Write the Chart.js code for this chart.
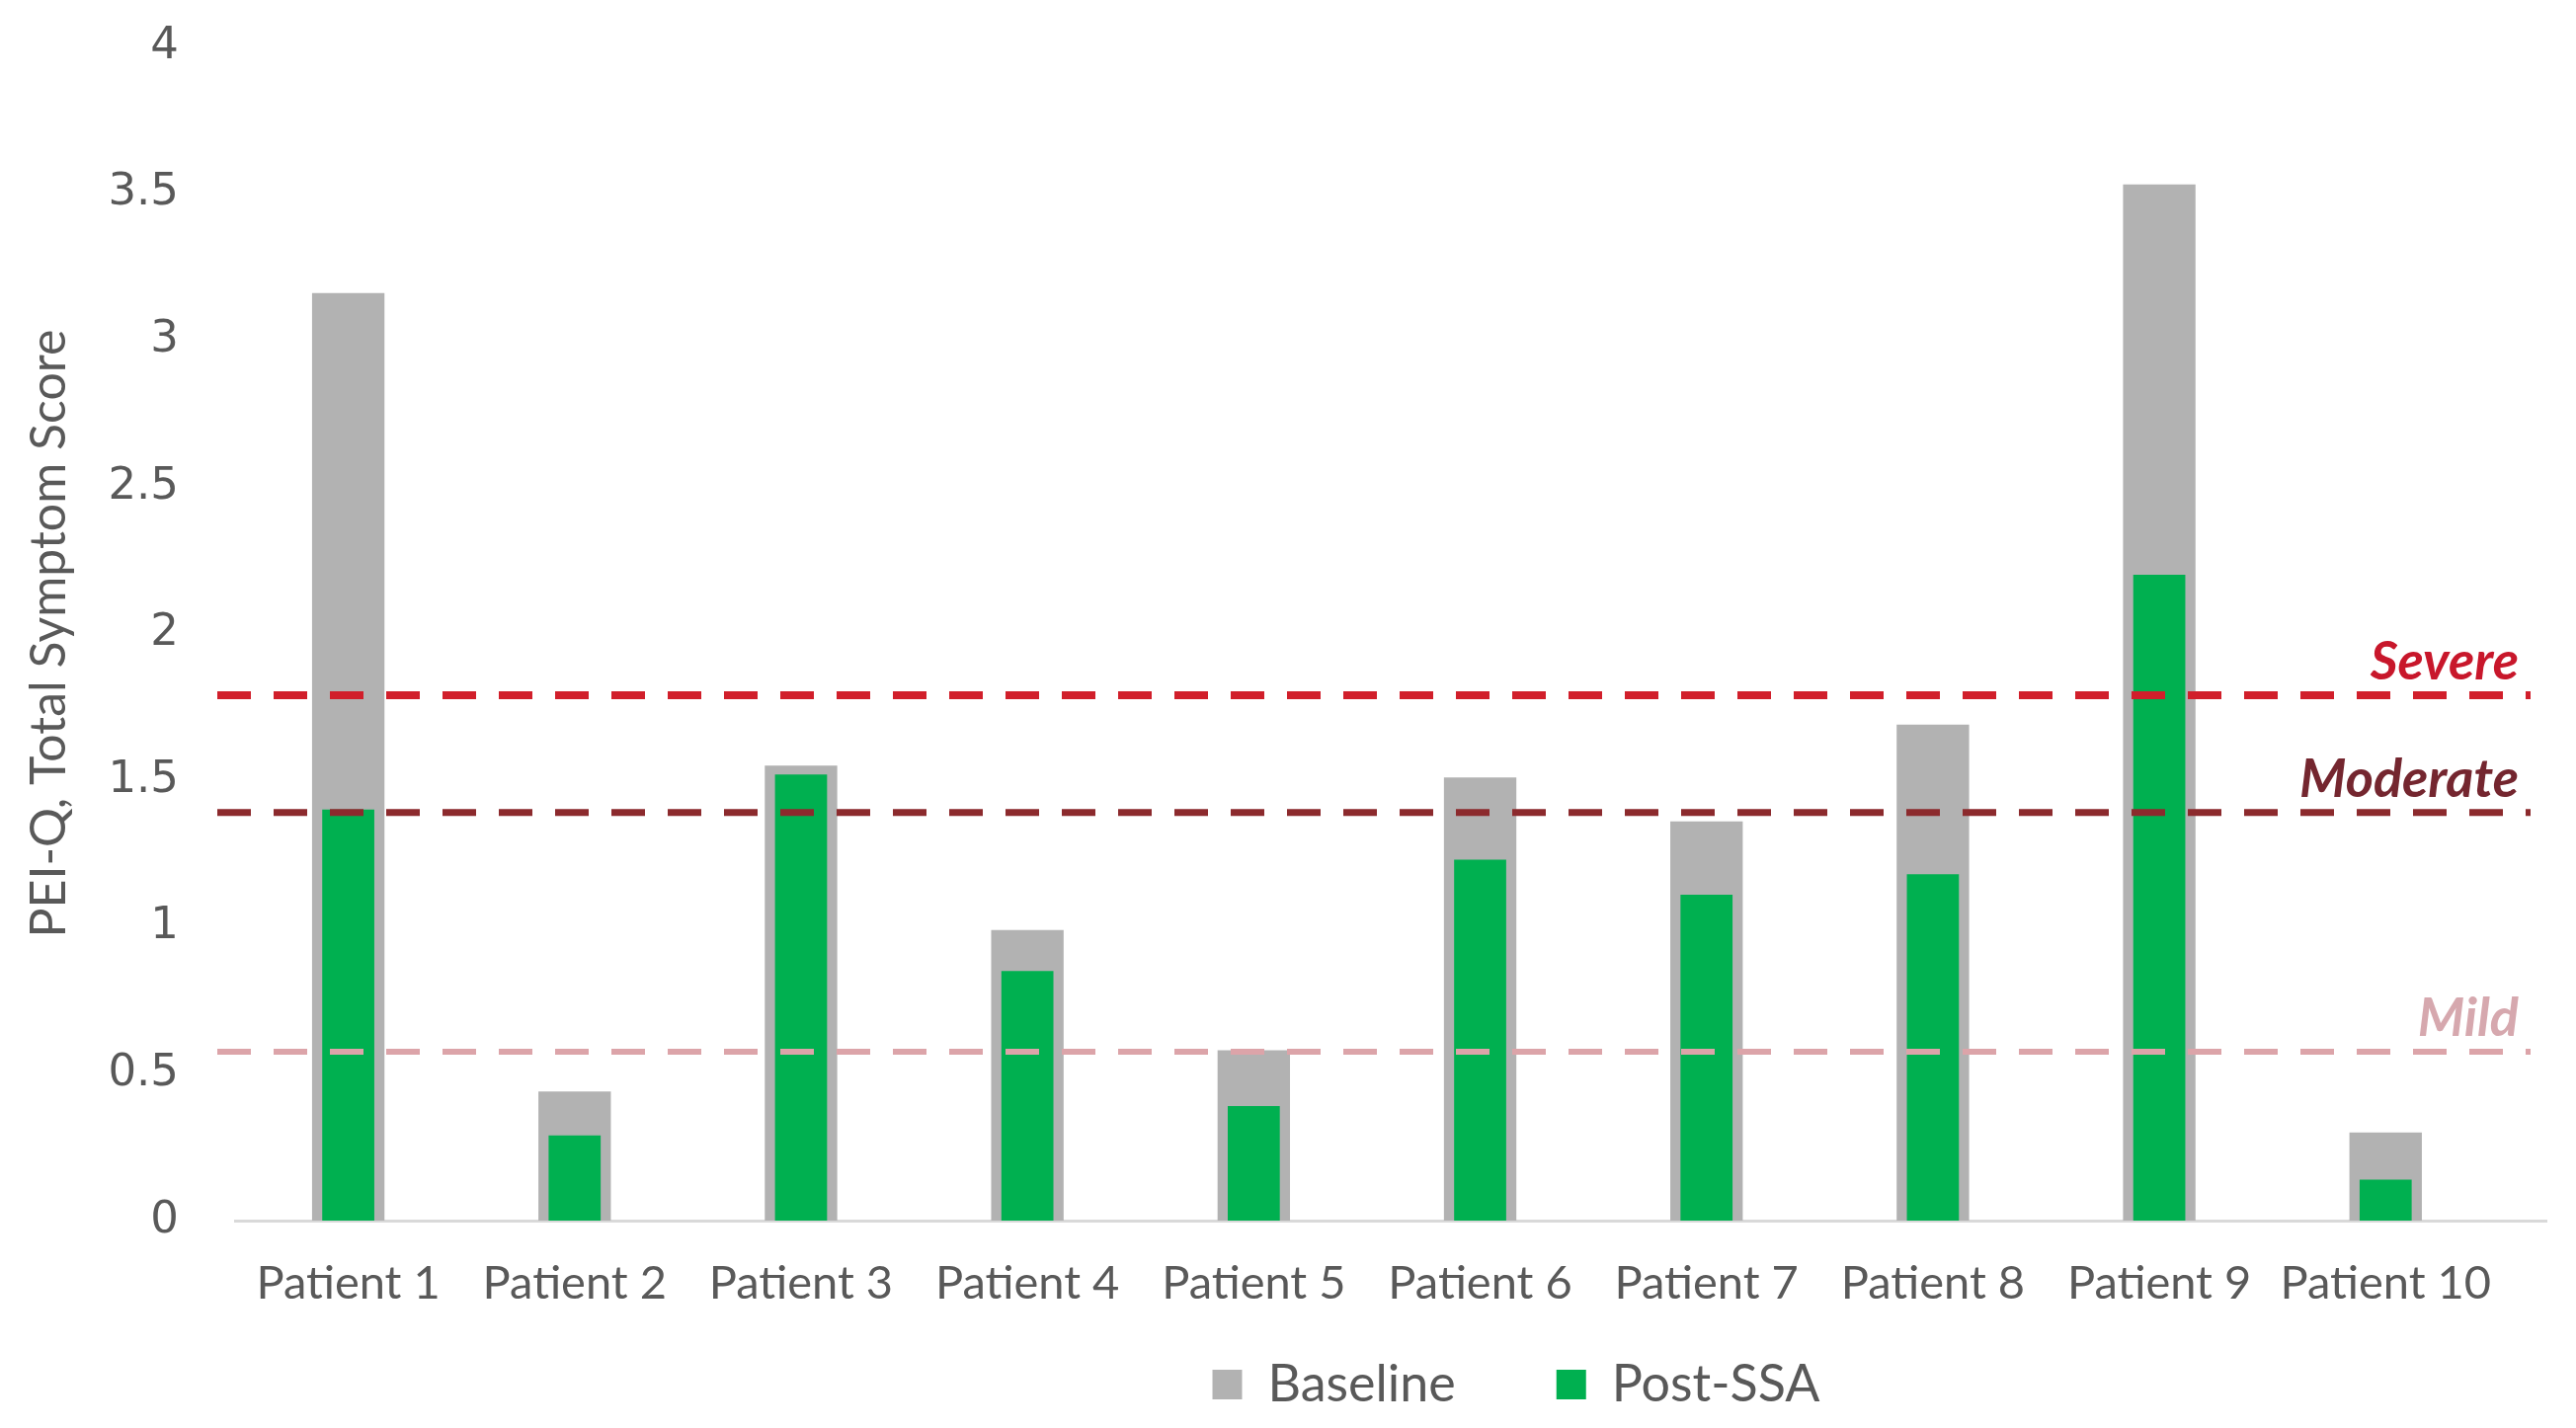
<!DOCTYPE html>
<html>
<head>
<meta charset="utf-8">
<script src="https://cdn.jsdelivr.net/npm/chart.js@4.4.1/dist/chart.umd.min.js"></script>
<style>
html,body{margin:0;padding:0;background:#ffffff;}
canvas{display:block;}
</style>
</head>
<body>
<canvas id="c" width="2608" height="1446"></canvas>
<script>
// ---- Data ----
const categories = ['Patient 1','Patient 2','Patient 3','Patient 4','Patient 5','Patient 6','Patient 7','Patient 8','Patient 9','Patient 10'];
const baselineValues = [3.16, 0.44, 1.55, 0.99, 0.58, 1.51, 1.36, 1.69, 3.53, 0.30];
const postSsaValues  = [1.40, 0.29, 1.52, 0.85, 0.39, 1.23, 1.11, 1.18, 2.20, 0.14];
const yTickValues = [0, 0.5, 1, 1.5, 2, 2.5, 3, 3.5, 4];
const thresholdNames = ['Severe', 'Moderate', 'Mild'];
const thresholdValues = [1.79, 1.39, 0.575];

// ---- Styles ----
const thresholdStyles = [
  {line:'#d11f2b', text:'#c8172b', width:8},
  {line:'#8c2a2d', text:'#74262f', width:7},
  {line:'#dca4a9', text:'#d6a8ae', width:6}
];
const textColor = '#595959';

const thresholdPlugin = {
  id: 'thresholds',
  afterDatasetsDraw(chart) {
    const ctx = chart.ctx;
    const x = chart.scales.x, y = chart.scales.y;
    thresholdValues.forEach((v, i) => {
      const st = thresholdStyles[i];
      const py = y.getPixelForValue(v);
      ctx.save();
      ctx.strokeStyle = st.line;
      ctx.lineWidth = st.width;
      ctx.setLineDash([34, 23]);
      ctx.beginPath();
      ctx.moveTo(x.left - 18, py);
      ctx.lineTo(x.right - 16, py);
      ctx.stroke();
      ctx.setLineDash([]);
      ctx.font = 'italic bold 54px Lato';
      ctx.fillStyle = st.text;
      ctx.textAlign = 'right';
      ctx.textBaseline = 'alphabetic';
      ctx.fillText(thresholdNames[i], x.right - 28, py - 16);
      ctx.restore();
    });
  }
};

// moves the bottom legend so it sits where the original placed it
const legendShift = {
  id: 'legendShift',
  afterLayout(chart) {
    const l = chart.legend;
    if (!l) return;
    l.left += 246; l.right += 246;
    l.top = l.top - 54;
    l.bottom = chart.height;
    l.height = l.bottom - l.top;
  }
};

new Chart(document.getElementById('c').getContext('2d'), {
  type: 'bar',
  data: {
    datasets: [
      {
        label: 'Baseline',
        data: categories.map((c, i) => ({x: i + 1, y: baselineValues[i]})),
        backgroundColor: '#b2b2b2',
        barPercentage: 0.32,
        categoryPercentage: 1,
        grouped: false,
        order: 2
      },
      {
        label: 'Post-SSA',
        data: categories.map((c, i) => ({x: i + 1, y: postSsaValues[i]})),
        backgroundColor: '#00b050',
        barPercentage: 0.23,
        categoryPercentage: 1,
        grouped: false,
        order: 1
      }
    ]
  },
  options: {
    responsive: false,
    animation: false,
    devicePixelRatio: 1,
    layout: {padding: {top: 47, left: 0, right: 30, bottom: 18}},
    plugins: {
      tooltip: {enabled: false},
      legend: {
        position: 'bottom',
        maxHeight: 100,
        labels: {
          sort: (a, b) => a.datasetIndex - b.datasetIndex,
          boxWidth: 30,
          boxHeight: 30,
          padding: 102,
          color: textColor,
          font: {family: 'Lato', size: 52}
        }
      }
    },
    scales: {
      x: {
        type: 'linear',
        offset: false,
        min: 0.5,
        max: 10.71,
        afterBuildTicks: s => { s.ticks = categories.map((c, i) => ({value: i + 1})); },
        afterFit: s => { s.height = 92; s.paddingLeft = 0; s.paddingRight = 0; },
        ticks: {
          callback: v => categories[v - 1],
          color: textColor,
          font: {family: 'Lato', size: 47},
          padding: 36,
          maxRotation: 0,
          autoSkip: false
        },
        grid: {display: false, drawTicks: false},
        border: {display: true, color: '#d9d9d9', width: 3}
      },
      y: {
        min: 0,
        max: 4,
        afterBuildTicks: s => { s.ticks = yTickValues.map(v => ({value: v})); },
        afterFit: s => { s.width = 238; s.paddingTop = 0; s.paddingBottom = 0; },
        ticks: {
          callback: v => String(v),
          color: textColor,
          font: {family: 'DejaVu Sans', size: 45},
          padding: 57
        },
        grid: {display: false, drawTicks: false},
        border: {display: false},
        title: {
          display: true,
          text: 'PEI-Q, Total Symptom Score',
          color: textColor,
          font: {family: 'Lato', size: 50},
          padding: {top: 20, bottom: 29}
        }
      }
    }
  },
  plugins: [thresholdPlugin, legendShift]
});
</script>
</body>
</html>
